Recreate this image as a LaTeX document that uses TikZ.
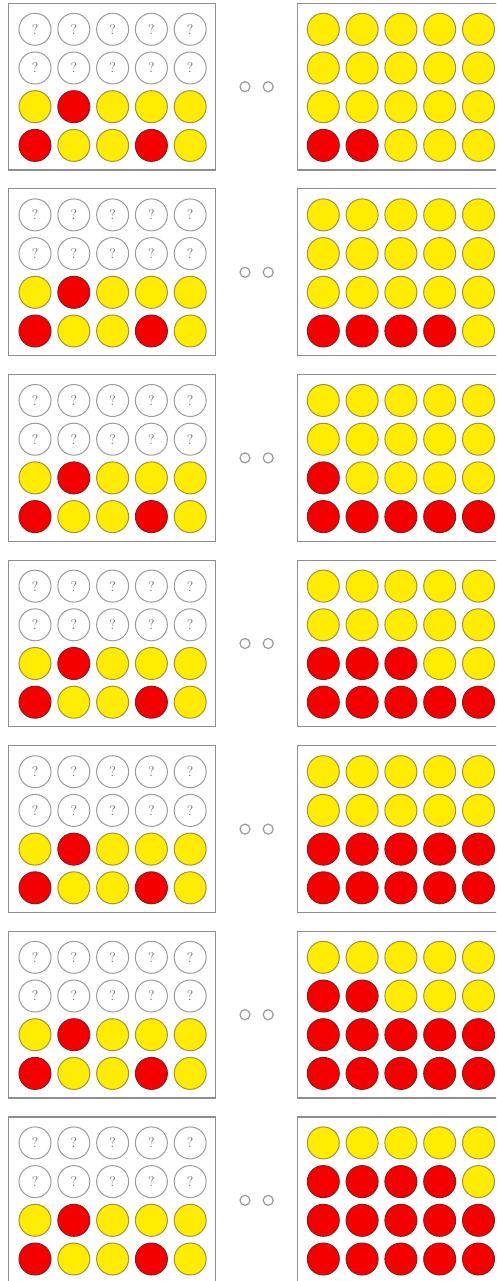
\documentclass[tikz,border=0pt]{standalone}
\usepackage{tikz}
\usetikzlibrary{shapes,positioning,calc}
\usepackage{xcolor}
\definecolor{discfill}{HTML}{FFEC00}
\definecolor{discline}{HTML}{A0913A}
\definecolor{redfill}{HTML}{F50000}
\definecolor{redline}{HTML}{8A1C1C}
\definecolor{boardline}{HTML}{8E8E8E}
\definecolor{qline}{HTML}{9A9A9A}

\begin{document}
\begin{tikzpicture}[x=1pt, y=-1pt,
    cell/.style={circle, minimum size=32pt, inner sep=0pt, line width=1pt},
    yelcell/.style={cell, draw=discline, fill=discfill},
    redcell/.style={cell, draw=redline, fill=redfill},
    unknown/.style={cell, draw=qline, fill=white, text=black!60, font=\fontsize{14pt}{14pt}\selectfont},
    board/.style={draw=boardline, line width=1.2pt},
    gapdot/.style={circle, draw=qline, minimum size=10pt, inner sep=0pt, line width=1.2pt}]
    \useasboundingbox (0,0) rectangle (496,1281);
    \clip (0,0) rectangle (496,1281);

    \foreach \p in {0,...,6} {
        \pgfmathsetmacro{\oy}{3.3+185.6*\p}

        % Boards
        \draw[board] (8.5,\oy) rectangle ++(207,166.7);
        \draw[board] (297.5,\oy) rectangle ++(220,166.7);

        % Hidden cells
        \foreach \i in {0,...,4}
            \foreach \j in {0,1}
                \node[unknown] (L\p-\i-\j) at ({35+38.8*\i},{\oy+26+38.7*\j}) {?};

        % Known cells
        \foreach \c [count=\i from 0] in {yelcell,redcell,yelcell,yelcell,yelcell}
            \node[\c] (L\p-\i-2) at ({35+38.8*\i},{\oy+26+38.7*2}) {};
        \foreach \c [count=\i from 0] in {redcell,yelcell,yelcell,redcell,yelcell}
            \node[\c] (L\p-\i-3) at ({35+38.8*\i},{\oy+26+38.7*3}) {};

        % Filled board, two more red each step
        \foreach \i in {0,...,4}
            \foreach \j in {0,...,3} {
                \pgfmathtruncatemacro{\k}{(3-\j)*5+\i}
                \pgfmathtruncatemacro{\isred}{\k<2*(\p+1)}
                \ifnum\isred=1 \def\c{redcell}\else\def\c{yelcell}\fi
                \node[\c] (R\p-\i-\j) at ({323.3+38.8*\i},{\oy+26+38.7*\j}) {};
            }

        % Ellipsis
        \node[gapdot] (d\p a) at (245,\oy+83.4) {};
        \node[gapdot, right=12pt of d\p a] (d\p b) {};
    }
\end{tikzpicture}
\end{document}
